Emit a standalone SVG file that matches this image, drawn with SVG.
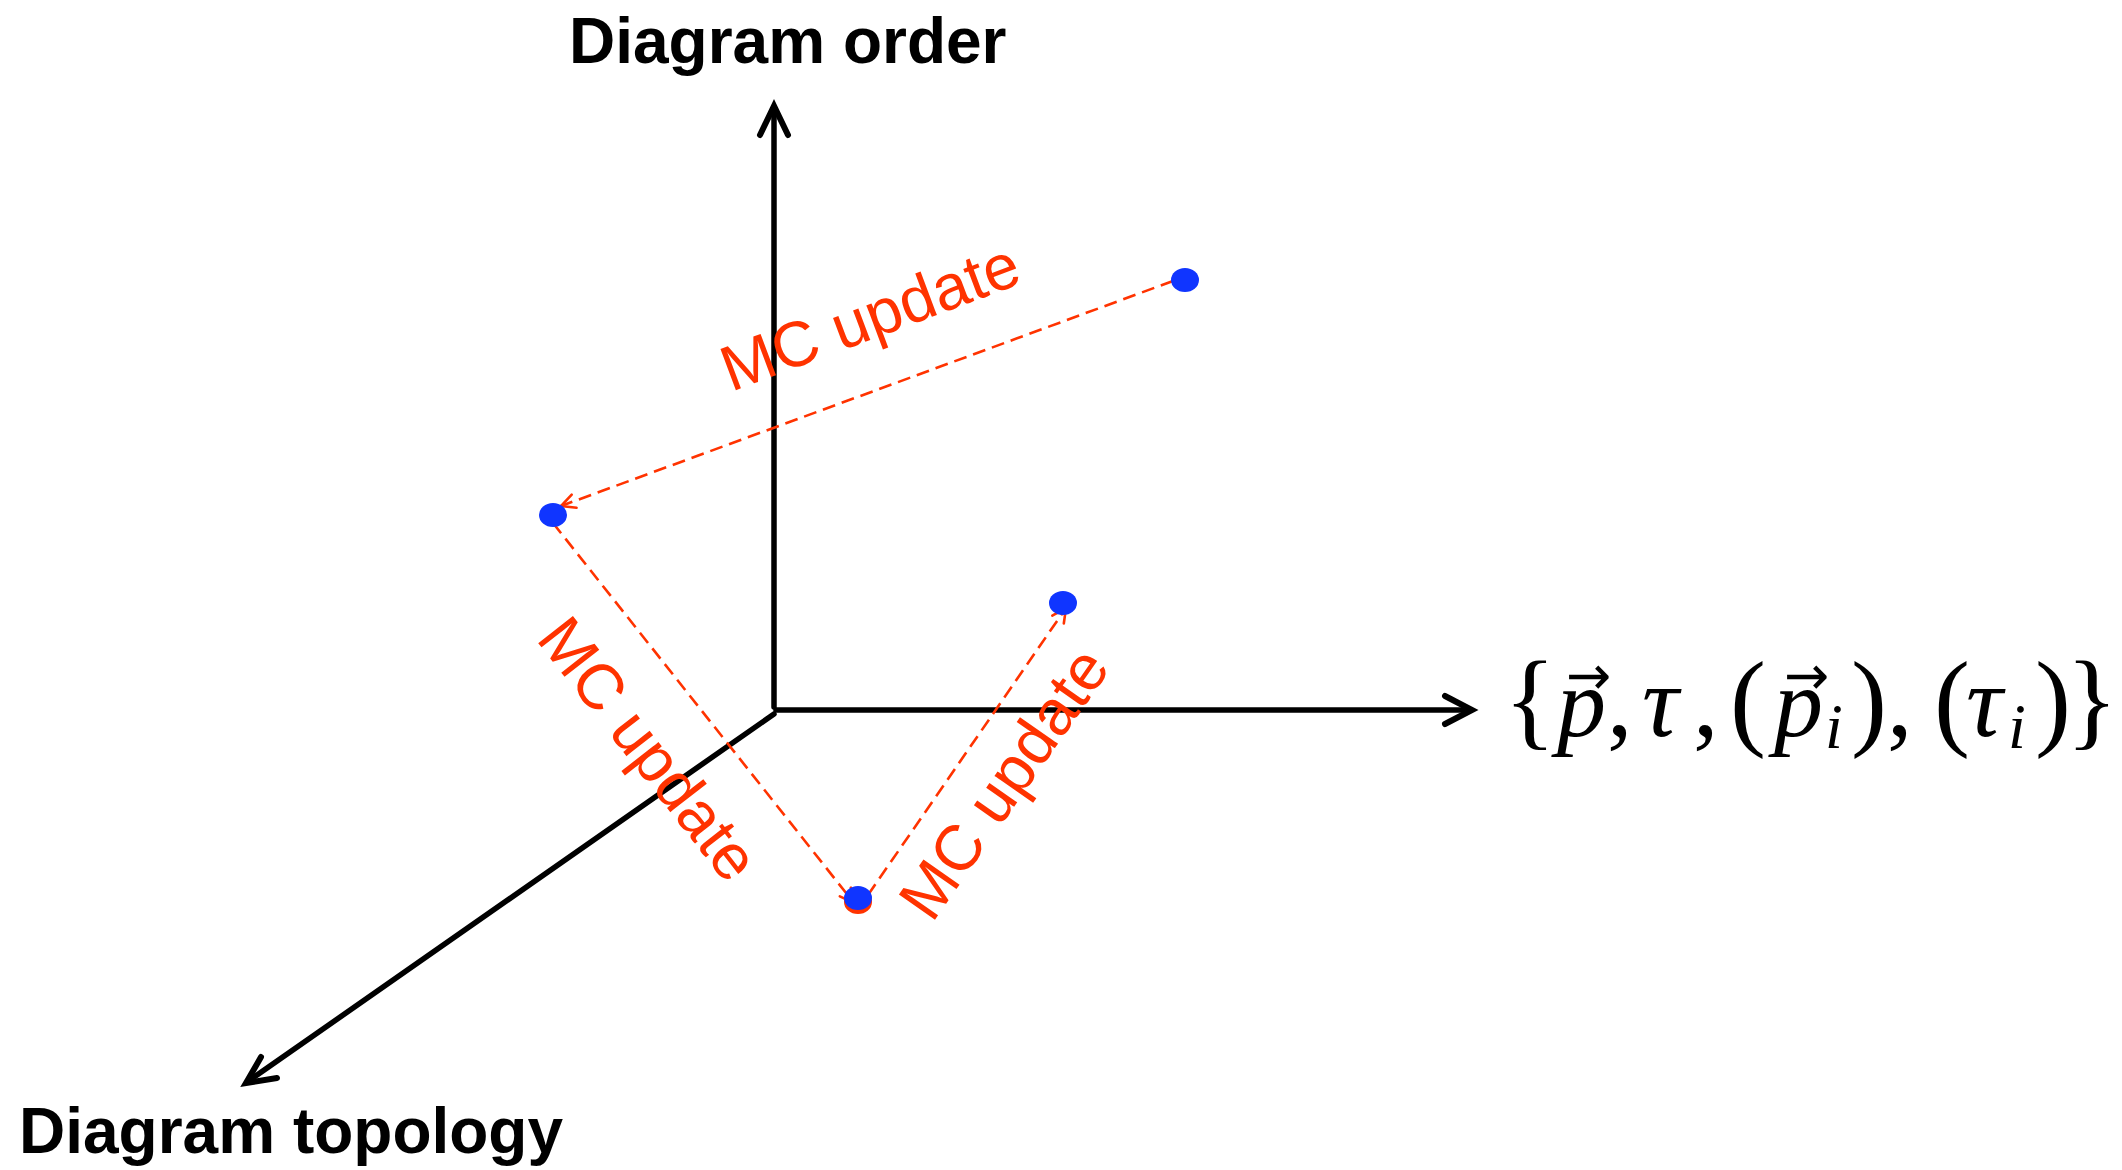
<svg xmlns="http://www.w3.org/2000/svg" width="2122" height="1170" viewBox="0 0 2122 1170">
<style>
.axis{fill:none;stroke:#000;stroke-width:5.5;stroke-linecap:round;stroke-linejoin:miter}
.ahead{fill:none;stroke:#000;stroke-width:6;stroke-linecap:round;stroke-linejoin:miter}
.ttl{font-family:"Liberation Sans",Arial,sans-serif;font-weight:bold;font-size:64px;fill:#000}
.mc{font-family:"Liberation Sans",Arial,sans-serif;font-size:64px;fill:#ff3300}
.dash{fill:none;stroke:#ff3300;stroke-width:2.6;stroke-dasharray:13 7}
.dot{fill:#1035ff}
.math{font-family:"Liberation Serif","Times New Roman",serif;fill:#000}
.it{font-style:italic}
.vec{font-family:"DejaVu Sans",sans-serif;font-size:54px;fill:#000}
</style>
<defs>
<marker id="ra" viewBox="0 0 18 18" refX="16" refY="9" markerWidth="18" markerHeight="18" markerUnits="userSpaceOnUse" orient="auto">
<path d="M2,2 L16,9 L2,16" fill="none" stroke="#ff3300" stroke-width="2.6" stroke-linecap="round"/>
</marker>
</defs>
<rect width="2122" height="1170" fill="#fff"/>
<g id="axes">
<line class="axis" x1="774" y1="707" x2="774" y2="110"/>
<path class="ahead" d="M760,135 L774,106 L788,135"/>
<line class="axis" x1="776" y1="710" x2="1468" y2="710"/>
<path class="ahead" d="M1445,696 L1472,710 L1445,724"/>
<line class="axis" x1="774" y1="714" x2="250" y2="1080"/>
<path class="ahead" d="M261,1057 L246,1083 L277,1078"/>
</g>
<g id="label-order"><text class="ttl" x="569" y="63">Diagram order</text></g>
<g id="label-topology"><text class="ttl" x="19" y="1153" font-size="63">Diagram topology</text></g>
<g id="label-params">
<text class="math" y="736">
<tspan x="1504" font-size="108">{</tspan>
<tspan class="it" x="1557" font-size="98">p</tspan>
<tspan x="1607" font-size="102">,</tspan>
<tspan class="it" x="1642" font-size="102">τ</tspan>
<tspan x="1693" font-size="102">,</tspan>
<tspan x="1730" font-size="108">(</tspan>
<tspan class="it" x="1774" font-size="98">p</tspan>
<tspan class="it" x="1825" font-size="64" dy="12">i</tspan>
<tspan x="1851" font-size="108" dy="-12">)</tspan>
<tspan x="1887" font-size="102">,</tspan>
<tspan x="1934" font-size="108">(</tspan>
<tspan class="it" x="1966" font-size="102">τ</tspan>
<tspan class="it" x="2008" font-size="64" dy="12">i</tspan>
<tspan x="2035" font-size="108" dy="-12">)</tspan>
<tspan x="2066" font-size="108">}</tspan>
</text>
<text class="vec" x="1566" y="694">→</text>
<text class="vec" x="1784" y="694">→</text>
</g>
<g id="connectors">
<line class="dash" x1="1173" y1="281" x2="561" y2="506" marker-end="url(#ra)"/>
<line class="dash" x1="553" y1="523" x2="854" y2="903" marker-end="url(#ra)"/>
<line class="dash" x1="868" y1="895" x2="1066" y2="608" marker-end="url(#ra)"/>
<text class="mc" transform="translate(731,392) rotate(-20.5)">MC update</text>
<text class="mc" transform="translate(535,639) rotate(52)">MC update</text>
<text class="mc" transform="translate(932,924) rotate(-55)">MC update</text>
</g>
<g id="node-a"><ellipse class="dot" cx="1185" cy="280" rx="14" ry="12"/></g>
<g id="node-b"><ellipse class="dot" cx="553" cy="515" rx="14" ry="12"/></g>
<g id="node-c"><ellipse cx="858" cy="902" rx="14" ry="12" fill="#ff3300"/><ellipse class="dot" cx="858" cy="898" rx="14" ry="12"/></g>
<g id="node-d"><ellipse class="dot" cx="1063" cy="603" rx="14" ry="12"/></g>
</svg>
